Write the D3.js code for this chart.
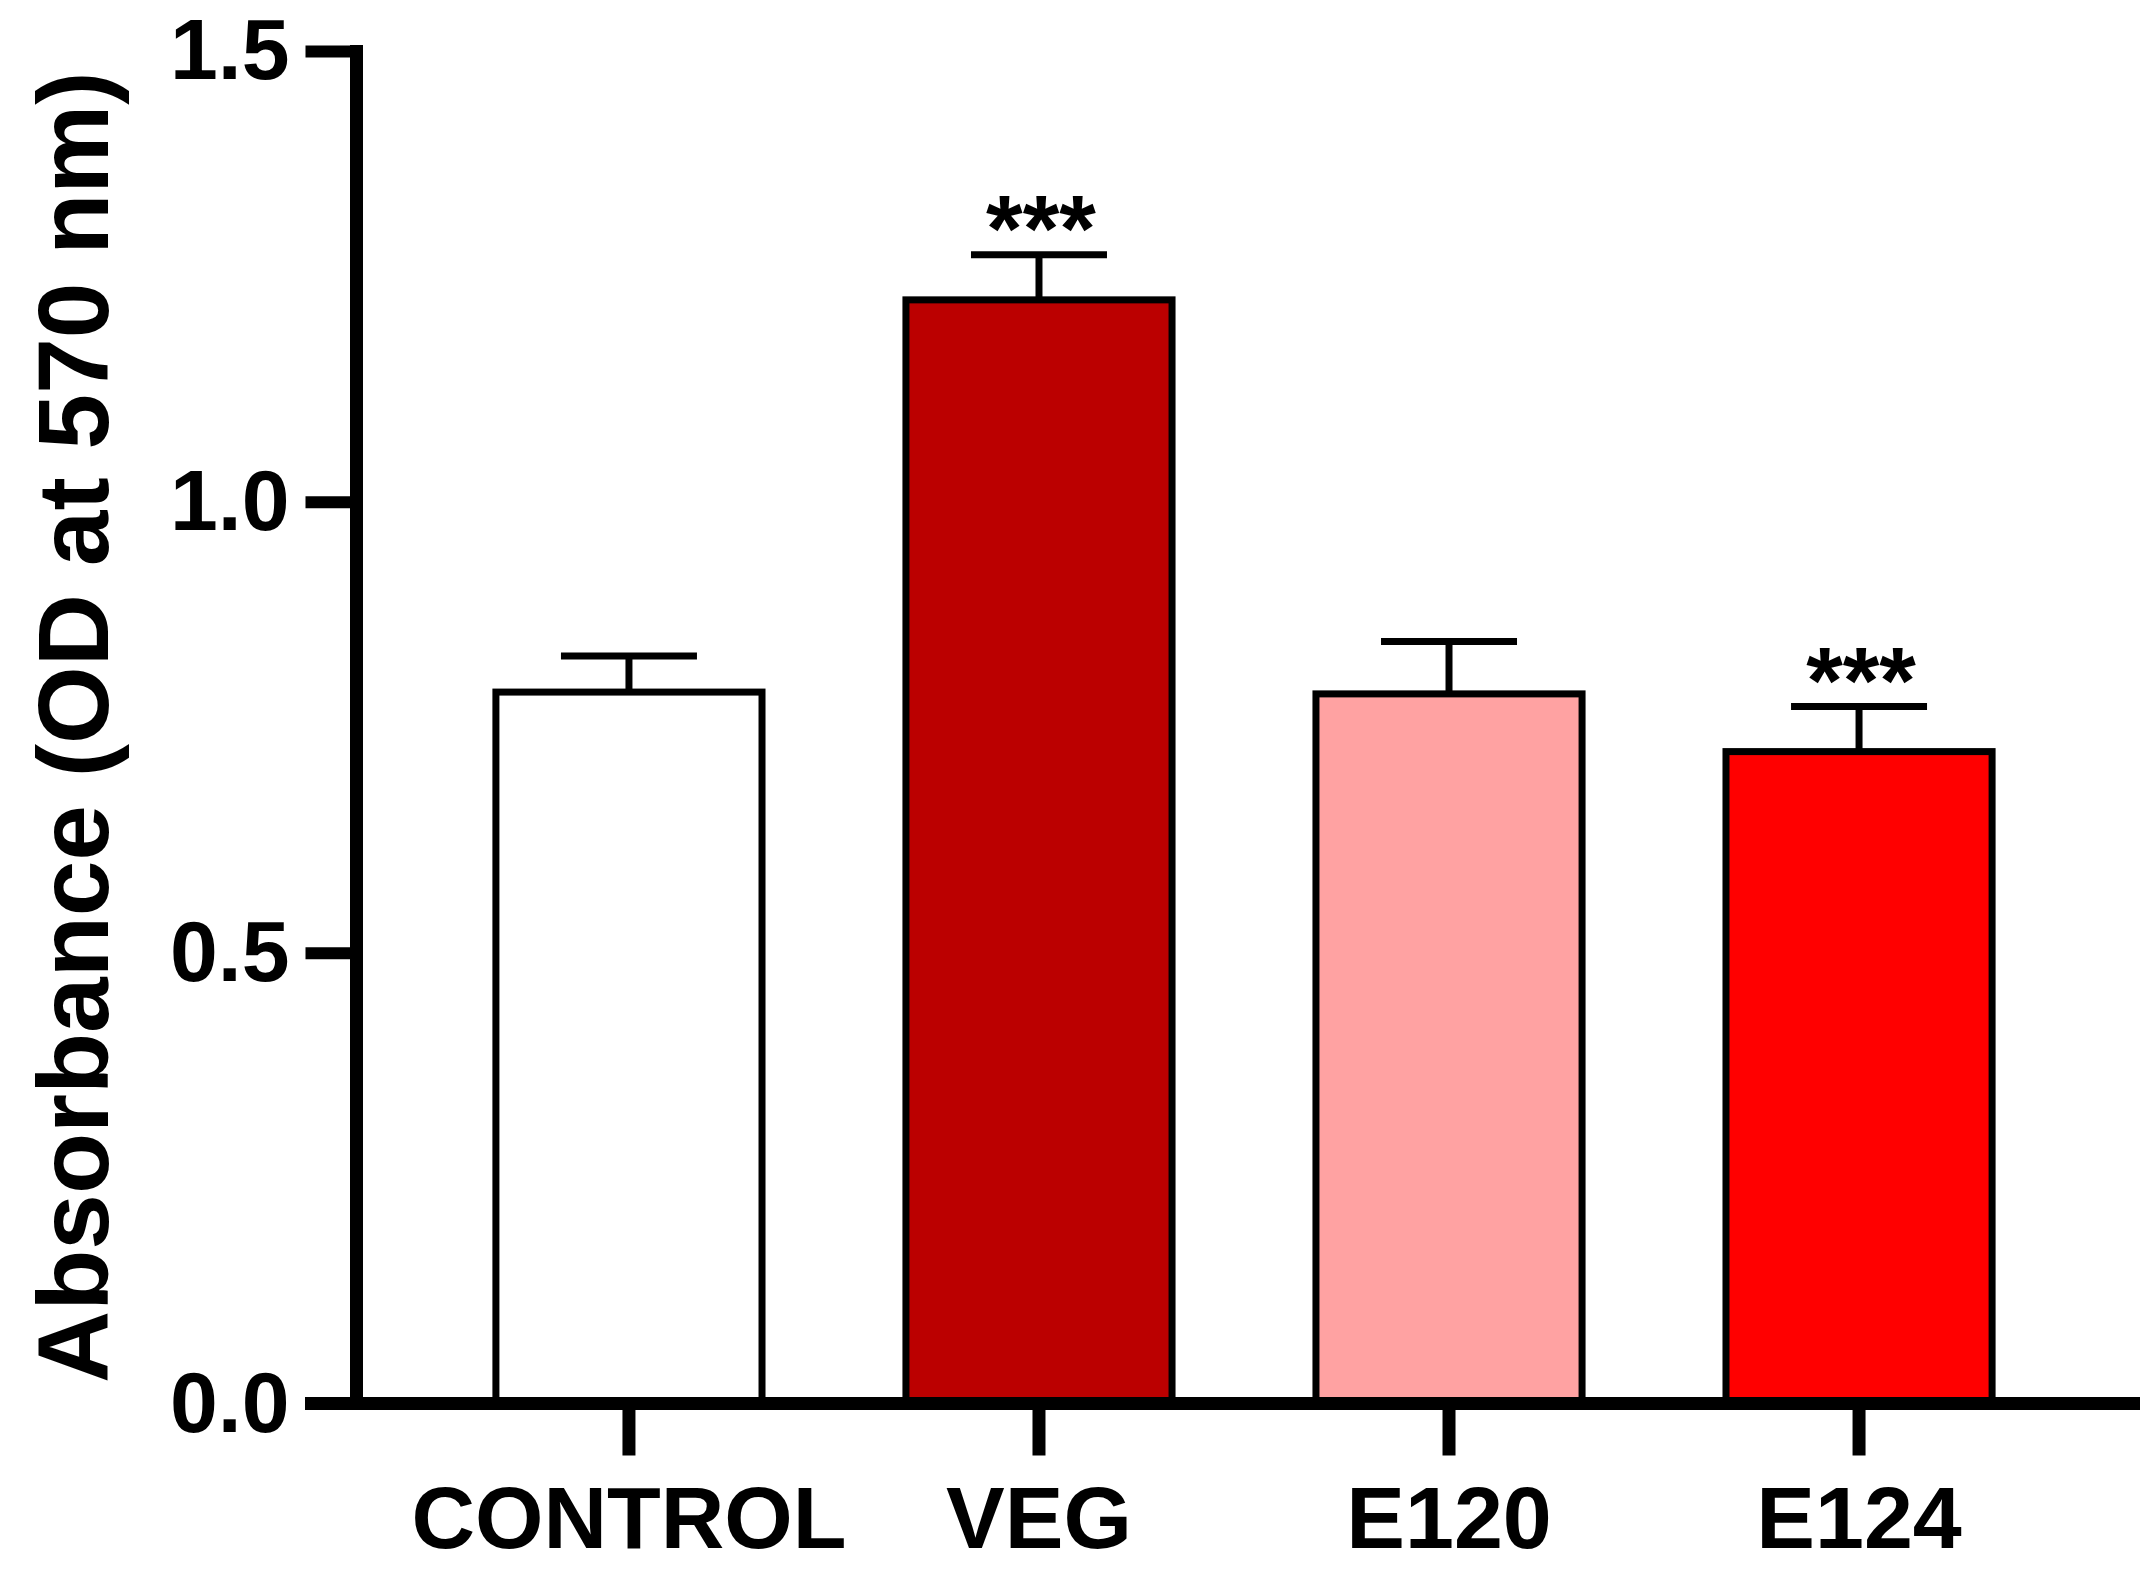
<!DOCTYPE html>
<html>
<head>
<meta charset="utf-8">
<script src="https://cdn.jsdelivr.net/npm/d3@7"></script>
<style>
  body { margin: 0; background: #fff; }
  svg text { font-family: "Liberation Sans", Arial, sans-serif; fill: #000; }
</style>
</head>
<body>
<script>
/** - - - - - - DATA
*/
var groups = ["CONTROL", "VEG", "E120", "E124"];
var means  = [0.789, 1.224, 0.787, 0.723];
var sems   = [0.040, 0.050, 0.058, 0.050];
var stars  = ["", "***", "", "***"];
var fills  = ["#ffffff", "#bb0000", "#ffa2a2", "#ff0000"];
var yTicks = [0, 0.5, 1.0, 1.5];

/** - - - - - - SIZES
*/
var W = 2156, H = 1573;
var axisX = 356.5;          // y axis line
var x0 = 305, x1 = 2140;    // x axis line extent
var lw = 13;                // axis line width

var svg = d3.select("body").append("svg")
  .attr("width", W)
  .attr("height", H);

var y = d3.scaleLinear()
  .domain([0, 1.5])
  .range([1403.5, 51]);

var x = d3.scaleBand()
  .domain(groups)
  .range([axisX, 2131.5])
  .paddingInner(0.351)
  .paddingOuter(0.34);

/** - - - - - - BARS
*/
var bar = svg.selectAll(".bar")
  .data(groups)
  .enter().append("g")
  .attr("class", "bar");

bar.append("rect")
  .attr("x", function(d) { return x(d); })
  .attr("y", function(d, i) { return y(means[i]); })
  .attr("width", x.bandwidth())
  .attr("height", function(d, i) { return y(0) - y(means[i]); })
  .attr("fill", function(d, i) { return fills[i]; })
  .attr("stroke", "#000")
  .attr("stroke-width", 7);

// error bars (upper only)
bar.append("line")
  .attr("x1", function(d) { return x(d) + x.bandwidth() / 2; })
  .attr("x2", function(d) { return x(d) + x.bandwidth() / 2; })
  .attr("y1", function(d, i) { return y(means[i]); })
  .attr("y2", function(d, i) { return y(means[i] + sems[i]); })
  .attr("stroke", "#000")
  .attr("stroke-width", 7);

bar.append("line")
  .attr("x1", function(d) { return x(d) + x.bandwidth() / 2 - 68; })
  .attr("x2", function(d) { return x(d) + x.bandwidth() / 2 + 68; })
  .attr("y1", function(d, i) { return y(means[i] + sems[i]); })
  .attr("y2", function(d, i) { return y(means[i] + sems[i]); })
  .attr("stroke", "#000")
  .attr("stroke-width", 7);

// significance stars
bar.append("text")
  .attr("x", function(d) { return x(d) + x.bandwidth() / 2 + 2; })
  .attr("y", function(d, i) { return y(means[i] + sems[i]) + 6; })
  .attr("text-anchor", "middle")
  .style("font-size", "94px")
  .style("font-weight", "bold")
  .text(function(d, i) { return stars[i]; });

/** - - - - - - AXES
*/
var yAxis = svg.append("g")
  .attr("transform", "translate(" + axisX + ",0)")
  .call(d3.axisLeft(y)
    .tickValues(yTicks)
    .tickFormat(d3.format(".1f"))
    .tickSize(51)
    .tickPadding(16));
yAxis.select(".domain").remove();
yAxis.selectAll(".tick line").attr("stroke", "#000").attr("stroke-width", 12);
yAxis.selectAll(".tick text")
  .attr("fill", "#000")
  .style("font-size", "86px")
  .style("font-weight", "bold");

var xAxis = svg.append("g")
  .attr("transform", "translate(0," + y(0) + ")")
  .call(d3.axisBottom(x).tickSize(52).tickPadding(30));
xAxis.select(".domain").remove();
xAxis.selectAll(".tick line").attr("stroke", "#000").attr("stroke-width", 13);
xAxis.selectAll(".tick text")
  .attr("fill", "#000")
  .attr("dy", "0.71em")
  .style("font-size", "88px")
  .style("font-weight", "bold");

// axis lines drawn over the bar bottoms
svg.append("line")
  .attr("x1", axisX).attr("x2", axisX)
  .attr("y1", y(1.5) - 6).attr("y2", y(0) + lw / 2)
  .attr("stroke", "#000").attr("stroke-width", lw);

svg.append("line")
  .attr("x1", x0).attr("x2", x1)
  .attr("y1", y(0)).attr("y2", y(0))
  .attr("stroke", "#000").attr("stroke-width", lw);

// y axis title
svg.append("text")
  .attr("transform", "translate(108," + (y(0) + y(1.5)) / 2 + ") rotate(-90)")
  .attr("text-anchor", "middle")
  .style("font-size", "100px")
  .style("font-weight", "bold")
  .text("Absorbance (OD at 570 nm)");
</script>
</body>
</html>
